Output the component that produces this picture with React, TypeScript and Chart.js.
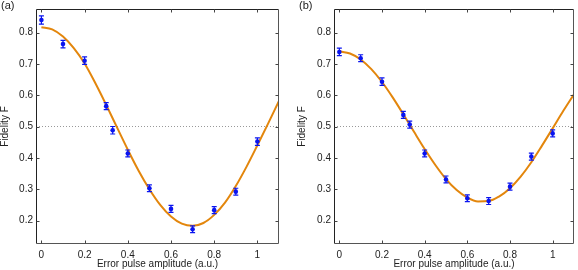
import React, { useEffect, useRef } from "react";
import { Chart, registerables } from "chart.js";
Chart.register(...registerables);

const xTicks = [0, 0.2, 0.4, 0.6, 0.8, 1];
const xTickLabels = ["0", "0.2", "0.4", "0.6", "0.8", "1"];
const yTicks = [0.2, 0.3, 0.4, 0.5, 0.6, 0.7, 0.8];
const yTickLabels = ["0.2", "0.3", "0.4", "0.5", "0.6", "0.7", "0.8"];

const measX = [0, 0.1, 0.2, 0.3, 0.33, 0.4, 0.5, 0.6, 0.7, 0.8, 0.9, 1.0];
const fidelityA = [0.84, 0.763, 0.71, 0.565, 0.488, 0.414, 0.303, 0.237, 0.172, 0.233, 0.292, 0.452];
const errorA = [0.013, 0.012, 0.012, 0.011, 0.012, 0.011, 0.011, 0.011, 0.011, 0.011, 0.011, 0.012];
const fidelityB = [0.738, 0.718, 0.643, 0.537, 0.506, 0.414, 0.331, 0.271, 0.262, 0.308, 0.404, 0.478];
const errorB = [0.012, 0.011, 0.012, 0.011, 0.011, 0.011, 0.011, 0.011, 0.011, 0.011, 0.011, 0.011];

const fitX = [0, 0.05, 0.1, 0.15, 0.2, 0.25, 0.3, 0.35, 0.4, 0.45, 0.5, 0.55, 0.6, 0.65, 0.7, 0.75, 0.8, 0.85, 0.9, 0.95, 1.0, 1.05, 1.1];
const fitA = [0.817, 0.81, 0.787, 0.75, 0.701, 0.638, 0.569, 0.497, 0.426, 0.359, 0.3, 0.25, 0.213, 0.19, 0.183, 0.192, 0.218, 0.257, 0.31, 0.372, 0.44, 0.51, 0.582];
const fitB = [0.74, 0.733, 0.714, 0.683, 0.642, 0.593, 0.539, 0.483, 0.428, 0.377, 0.332, 0.297, 0.273, 0.261, 0.262, 0.277, 0.303, 0.34, 0.386, 0.439, 0.494, 0.55, 0.603];

const thresholdX = [-0.025, 1.1];
const thresholdY = [0.5, 0.5];

const X_MIN = -0.025;
const X_MAX = 1.1;
const Y_MIN = 0.125;
const Y_MAX = 0.875;

const FONT = "'Liberation Sans', Arial, Helvetica, sans-serif";
const BLUE = "#0a14f0";
const ORANGE = "#e3860c";

type PanelProps = {
  label: string;
  values: number[];
  errors: number[];
  fit: number[];
  left: number;
  width: number;
  axisWidth: number;
  padRight: number;
  labelX: number;
};

function Panel(p: PanelProps) {
  const ref = useRef<HTMLCanvasElement | null>(null);
  useEffect(() => {
    if (!ref.current) return;
    const errs = p.errors;
    const framePlugin = {
      id: "frameErr",
      afterDatasetsDraw(chart: any) {
        const ctx = chart.ctx;
        const a = chart.chartArea;
        const xs = chart.scales.x;
        const ys = chart.scales.y;
        ctx.save();
        // error bars
        ctx.strokeStyle = BLUE;
        ctx.lineWidth = 1.2;
        measX.forEach((xv, i) => {
          const px = xs.getPixelForValue(xv);
          const y1 = ys.getPixelForValue(p.values[i] - errs[i]);
          const y2 = ys.getPixelForValue(p.values[i] + errs[i]);
          ctx.beginPath();
          ctx.moveTo(px, y1);
          ctx.lineTo(px, y2);
          ctx.moveTo(px - 2.5, y1);
          ctx.lineTo(px + 2.5, y1);
          ctx.moveTo(px - 2.5, y2);
          ctx.lineTo(px + 2.5, y2);
          ctx.stroke();
        });
        const L = Math.round(a.left) + 0.5;
        const R = Math.round(a.right) - 0.5;
        const T = Math.round(a.top) + 0.5;
        const B = Math.round(a.bottom) - 0.5;
        ctx.lineWidth = 1;
        // frame
        ctx.strokeStyle = "#222";
        ctx.beginPath();
        ctx.moveTo(L, B);
        ctx.lineTo(L, T);
        ctx.lineTo(R, T);
        ctx.stroke();
        ctx.strokeStyle = "#555";
        ctx.beginPath();
        ctx.moveTo(L, B);
        ctx.lineTo(R, B);
        ctx.lineTo(R, T);
        ctx.stroke();
        // inward ticks
        ctx.strokeStyle = "#444";
        const tl = 3;
        xTicks.forEach((v) => {
          const px = Math.round(xs.getPixelForValue(v)) + 0.5;
          ctx.beginPath();
          ctx.moveTo(px, B);
          ctx.lineTo(px, B - tl);
          ctx.moveTo(px, T);
          ctx.lineTo(px, T + tl);
          ctx.stroke();
        });
        yTicks.forEach((v) => {
          const py = Math.round(ys.getPixelForValue(v)) + 0.5;
          ctx.beginPath();
          ctx.moveTo(L, py);
          ctx.lineTo(L + tl, py);
          ctx.moveTo(R, py);
          ctx.lineTo(R - tl, py);
          ctx.stroke();
        });
        // panel label
        ctx.fillStyle = "#222";
        ctx.font = `11px ${FONT}`;
        ctx.textBaseline = "alphabetic";
        ctx.textAlign = "left";
        ctx.fillText(p.label, p.labelX, 9);
        ctx.restore();
      },
    };

    const chart = new Chart(ref.current, {
      type: "line",
      data: {
        datasets: [
          {
            data: thresholdX.map((x, i) => ({ x, y: thresholdY[i] })),
            borderColor: "#999",
            borderWidth: 1,
            borderDash: [1, 2],
            pointRadius: 0,
            fill: false,
            order: 3,
          },
          {
            data: fitX.map((x, i) => ({ x, y: p.fit[i] })),
            borderColor: ORANGE,
            borderWidth: 2,
            pointRadius: 0,
            cubicInterpolationMode: "monotone",
            fill: false,
            order: 2,
          },
          {
            data: measX.map((x, i) => ({ x, y: p.values[i] })),
            showLine: false,
            pointRadius: 2.3,
            pointBackgroundColor: BLUE,
            pointBorderColor: BLUE,
            pointBorderWidth: 0,
            order: 1,
          },
        ],
      },
      options: {
        animation: false,
        responsive: false,
        maintainAspectRatio: false,
        events: [],
        layout: { padding: { top: 1, right: p.padRight, left: 0, bottom: 0 } },
        plugins: { legend: { display: false }, tooltip: { enabled: false } },
        scales: {
          x: {
            type: "linear",
            min: X_MIN,
            max: X_MAX,
            grid: { display: false, drawTicks: false, tickLength: 0 },
            border: { display: false },
            afterBuildTicks: (s: any) => {
              s.ticks = xTicks.map((v) => ({ value: v }));
            },
            afterFit: (s: any) => {
              s.height = 26;
            },
            ticks: {
              padding: 5,
              color: "#222",
              font: { family: FONT, size: 10 },
              maxRotation: 0,
              autoSkip: false,
              callback: (v: any) => {
                const i = xTicks.findIndex((t) => Math.abs(t - v) < 1e-9);
                return i >= 0 ? xTickLabels[i] : "";
              },
            },
            title: {
              display: true,
              text: "Error pulse amplitude (a.u.)",
              color: "#222",
              font: { family: FONT, size: 10, lineHeight: 1.2 },
              padding: { top: 0, bottom: 0 },
            },
          },
          y: {
            type: "linear",
            min: Y_MIN,
            max: Y_MAX,
            grid: { display: false, drawTicks: false, tickLength: 0 },
            border: { display: false },
            afterBuildTicks: (s: any) => {
              s.ticks = yTicks.map((v) => ({ value: v }));
            },
            afterFit: (s: any) => {
              s.width = p.axisWidth;
            },
            ticks: {
              padding: 3,
              color: "#222",
              font: { family: FONT, size: 10 },
              autoSkip: false,
              callback: (v: any) => {
                const i = yTicks.findIndex((t) => Math.abs(t - v) < 1e-9);
                return i >= 0 ? yTickLabels[i] : "";
              },
            },
            title: {
              display: true,
              text: "Fidelity F",
              color: "#222",
              font: { family: FONT, size: 10, lineHeight: 1 },
              padding: { top: 0, bottom: 0 },
            },
          },
        },
      },
      plugins: [framePlugin],
    } as any);
    return () => chart.destroy();
  }, []);
  return (
    <canvas
      ref={ref}
      width={p.width}
      height={270}
      style={{ position: "absolute", left: p.left, top: 0, width: p.width, height: 270 }}
    />
  );
}

export default function App() {
  return (
    <div style={{ position: "absolute", left: 0, top: 0, width: 578, height: 270, background: "#fff" }}>
      <Panel label="(a)" values={fidelityA} errors={errorA} fit={fitA} left={0} width={289} axisWidth={36} padRight={10} labelX={1} />
      <Panel label="(b)" values={fidelityB} errors={errorB} fit={fitB} left={297} width={281} axisWidth={37} padRight={1} labelX={2} />
    </div>
  );
}
